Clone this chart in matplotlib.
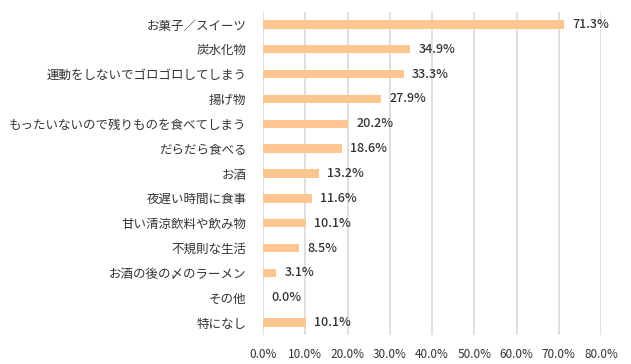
import matplotlib
matplotlib.use("Agg")
import matplotlib.pyplot as plt
from matplotlib.ticker import FuncFormatter

plt.rcParams['font.family'] = ['Noto Sans CJK JP', 'DejaVu Sans']

categories = ["お菓子／スイーツ", "炭水化物", "運動をしないでゴロゴロしてしまう", "揚げ物",
              "もったいないので残りものを食べてしまう", "だらだら食べる", "お酒", "夜遅い時間に食事",
              "甘い清涼飲料や飲み物", "不規則な生活", "お酒の後の〆のラーメン", "その他", "特になし"]
values = [71.3, 34.9, 33.3, 27.9, 20.2, 18.6, 13.2, 11.6, 10.1, 8.5, 3.1, 0.0, 10.1]
xticks = [0, 10, 20, 30, 40, 50, 60, 70, 80]

fig = plt.figure(figsize=(6.31, 3.64), dpi=100)
ax = fig.add_axes([263/631, 1-335/364, (601-263)/631, (335-12)/364])

y = list(range(len(categories)))
ax.barh(y, values, height=0.34, color='#FDC690', zorder=3)
for yi, v in zip(y, values):
    ax.text(v + 2.0, yi, f"{v:.1f}%", va='center', ha='left', fontsize=9, color='#333333', fontweight='medium')

ax.set_yticks(y)
ax.set_yticklabels(categories, fontsize=9, color='#333333')
ax.set_ylim(len(categories) - 0.5, -0.5)
ax.set_xlim(0, 80)
ax.set_xticks(xticks)
ax.xaxis.set_major_formatter(FuncFormatter(lambda v, p: f"{v:.1f}%"))
ax.tick_params(axis='x', labelsize=8.5, colors='#333333', length=0, pad=9)
ax.tick_params(axis='y', length=0, pad=12)
ax.grid(axis='x', color='#D9D9D9', linewidth=1.2, zorder=0)
for s in ax.spines.values():
    s.set_visible(False)

fig.savefig("out.png", dpi=100, facecolor='white')
